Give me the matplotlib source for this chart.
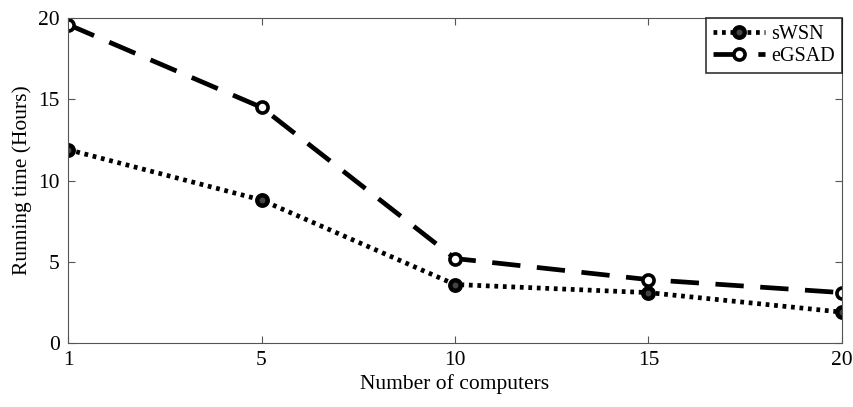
import matplotlib
matplotlib.use("Agg")
import matplotlib.pyplot as plt

categories = ["1", "5", "10", "15", "20"]
swsn = [11.9, 8.8, 3.6, 3.1, 1.9]
egsad = [19.6, 14.5, 5.2, 3.9, 3.1]
yticks = [0, 5, 10, 15, 20]

plt.rcParams['font.family'] = ['Liberation Serif', 'DejaVu Serif']

fig = plt.figure(figsize=(8.54, 4.07), dpi=100)
ax = fig.add_axes([68/854, 1-343/407, (842-68)/854, (343-18)/407])
x = list(range(len(categories)))
ax.plot(x, swsn, linestyle=(0, (0.8, 1.0)), color='black', linewidth=3.4,
        marker='o', markersize=7.5, markeredgewidth=3.2, markerfacecolor='#444444',
        markeredgecolor='black', label='sWSN')
ax.plot(x, egsad, linestyle=(0, (6, 3.5)), color='black', linewidth=3.4,
        marker='o', markersize=8, markeredgewidth=2.6, markerfacecolor='white',
        markeredgecolor='black', label='eGSAD')
ax.set_xlim(0, len(categories)-1)
ax.set_ylim(0, 20)
ax.set_xticks(x)
ax.set_xticklabels(categories)
ax.set_yticks(yticks)
ax.tick_params(direction='in', top=True, right=True, labelsize=15.5, length=5, color='#555555', pad=6)
for s in ax.spines.values():
    s.set_color('#555555')
ax.set_xlabel('Number of computers', fontsize=15.5, labelpad=3)
ax.set_ylabel('Running time (Hours)', fontsize=15.5, labelpad=4)
leg = ax.legend(loc='upper right', fontsize=14.5, frameon=True, fancybox=False,
                edgecolor='black', handlelength=2.6, borderaxespad=0.0,
                borderpad=0.35, labelspacing=0.15, handletextpad=0.3)
leg.get_frame().set_linewidth(1.2)
fig.savefig('out.png', dpi=100)
